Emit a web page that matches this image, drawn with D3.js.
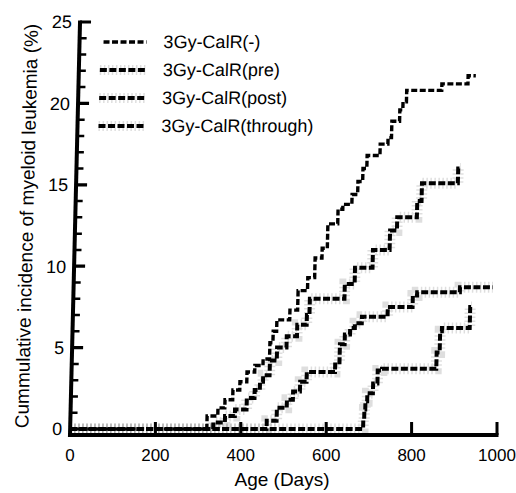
<!DOCTYPE html>
<html>
<head>
<meta charset="utf-8">
<script src="https://cdn.jsdelivr.net/npm/d3@7"></script>
<style>
  html, body { margin: 0; padding: 0; background: #fff; }
  svg { display: block; }
  text { font-family: "Liberation Sans", Arial, sans-serif; fill: #000; }
</style>
</head>
<body>
<div id="chart"></div>
<script>
// step points [day, cumulative %], last point = end of follow-up
const legendLabels = ['3Gy-CalR(-)', '3Gy-CalR(pre)', '3Gy-CalR(post)', '3Gy-CalR(through)'];
const calrNone = [[0,0],[320,0.8],[345,1.3],[361,1.8],[379,2.4],[395,2.9],[411,3.5],[429,3.9],[448,4.3],[463,5.3],[470,6.0],[478,6.7],[508,7.3],[526,8.5],[548,9.3],[564,10.5],[580,11.1],[592,12.6],[615,13.5],[626,13.8],[647,14.4],[660,15.2],[671,16.0],[680,16.8],[710,17.5],[728,17.9],[736,18.9],[754,19.6],[761,20.1],[769,20.8],[851,21.2],[912,21.7],[930,21.7]];
const calrPre = [[0,0],[335,0.4],[362,0.8],[385,1.2],[412,1.9],[430,2.4],[442,2.9],[449,3.3],[464,4.2],[480,5.0],[502,5.7],[526,6.4],[548,7.0],[554,8.0],[635,8.9],[658,9.9],[699,11.0],[738,12.2],[754,13.0],[800,14.0],[810,15.1],[894,16.0],[900,16.0]];
const calrPost = [[0,0],[460,0.5],[483,1.3],[506,1.8],[520,2.3],[536,2.9],[551,3.5],[617,4.1],[627,5.2],[638,5.8],[650,6.2],[661,6.5],[677,6.9],[737,7.5],[795,8.2],[805,8.4],[905,8.7],[982,8.7]];
const calrThrough = [[0,0],[686,0.6],[688,1.2],[690,1.7],[694,2.2],[707,2.8],[717,3.6],[727,3.7],[854,4.7],[861,6.0],[865,6.2],[930,7.5],[934,7.5]];
const xTicks = [0, 200, 400, 600, 800, 1000];
const yTicks = [0, 5, 10, 15, 20, 25];
const yMinor = d3.range(0, 26);

const series = [calrNone, calrPre, calrPost, calrThrough];
const W = 516, H = 493, base = 435;

const x = d3.scaleLinear().domain([0, 1000]).range([70, 497]);
const y = d3.scaleLinear().domain([0, 25]).range([429, 22]);

const svg = d3.select('#chart').append('svg').attr('width', W).attr('height', H);

// the scan is slightly sheared: y axis leans right towards the top
const g = svg.append('g').attr('transform', `translate(0,${base}) skewX(-1.39) translate(0,${-base})`);

// y axis + ticks pointing inward
g.append('path').attr('fill', 'none').attr('stroke', '#000').attr('stroke-width', 4)
  .attr('d', `M${x(0)},${base + 2}V${y(25) - 1.5}`);
const minorP = d3.path(), majorP = d3.path();
yMinor.forEach(v => {
  const p = v % 5 ? minorP : majorP;
  p.moveTo(x(0), y(v)); p.lineTo(x(0) + (v % 5 ? 7 : 11), y(v));
});
g.append('path').attr('fill', 'none').attr('stroke', '#000').attr('stroke-width', 2.5).attr('d', minorP.toString());
g.append('path').attr('fill', 'none').attr('stroke', '#000').attr('stroke-width', 3.2).attr('d', majorP.toString());
g.append('g').selectAll('text').data(yTicks).join('text')
  .attr('x', x(0) - 8).attr('y', d => y(d)).attr('dy', '0.36em')
  .attr('text-anchor', 'end').attr('font-size', 18).text(d => d);

// y title
g.append('text').attr('transform', `translate(28,226) rotate(-90)`).attr('text-anchor', 'middle')
  .attr('font-size', 19).text('Cummulative incidence of myeloid leukemia (%)');

// curves
const line = d3.line().x(d => x(d[0])).y(d => y(d[1])).curve(d3.curveStepAfter);
const dashes = ['6,2.5', '7,2.5', '7,2.5', '7,2.5'];
const widths = [3.4, 4, 4, 4];
series.forEach((s, i) => {
  if (i > 0) {
    g.append('path').attr('d', line(s)).attr('fill', 'none')
      .attr('stroke', '#000').attr('stroke-opacity', 0.13).attr('stroke-width', 11)
      .attr('stroke-dasharray', '1.5,2.5');
  }
  g.append('path').attr('d', line(s)).attr('fill', 'none')
    .attr('stroke', '#000').attr('stroke-width', widths[i]).attr('stroke-dasharray', dashes[i]);
});

// legend
const leg = g.append('g').selectAll('g').data(legendLabels).join('g')
  .attr('transform', (d, i) => `translate(0,${42 + i * 28})`);
leg.filter((d, i) => i > 0).append('path').attr('d', 'M91,0H137').attr('fill', 'none')
  .attr('stroke', '#000').attr('stroke-opacity', 0.13).attr('stroke-width', 10).attr('stroke-dasharray', '1.5,2.5');
leg.append('path').attr('d', (d, i) => `M${i ? 91 : 94},0H137`).attr('fill', 'none')
  .attr('stroke', '#000').attr('stroke-width', (d, i) => widths[i])
  .attr('stroke-dasharray', (d, i) => dashes[i]);
leg.append('text').attr('x', 154).attr('dy', '0.36em').attr('font-size', 18).text(d => d);

// x axis (not sheared), ticks pointing up
const xP = d3.path();
xP.moveTo(x(0) - 2, base); xP.lineTo(x(1000) + 1.5, base);
svg.append('path').attr('fill', 'none').attr('stroke', '#000').attr('stroke-width', 4).attr('d', xP.toString());
const xtP = d3.path();
xTicks.slice(1).forEach(v => { xtP.moveTo(x(v), base); xtP.lineTo(x(v), base - 13); });
svg.append('path').attr('fill', 'none').attr('stroke', '#000').attr('stroke-width', 3).attr('d', xtP.toString());
svg.append('g').selectAll('text').data(xTicks).join('text')
  .attr('x', d => x(d)).attr('y', base + 26).attr('text-anchor', 'middle')
  .attr('font-size', 17).text(d => d);

svg.append('text').attr('x', 282).attr('y', 486).attr('text-anchor', 'middle')
  .attr('font-size', 19).text('Age (Days)');
</script>
</body>
</html>
